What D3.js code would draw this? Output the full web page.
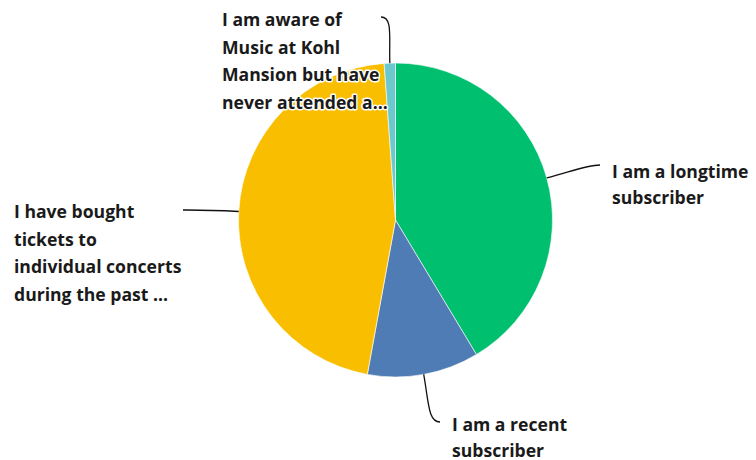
<!DOCTYPE html>
<html>
<head>
<meta charset="utf-8">
<script src="https://cdn.jsdelivr.net/npm/d3@7/dist/d3.min.js"></script>
<style>
  html, body { margin: 0; padding: 0; background: #fff; }
  svg { display: block; }
  .lbl { font-family: "Open Sans", sans-serif; font-weight: 700; font-size: 17.6px; fill: #1a1a1a;
         stroke: #fff; stroke-width: 3px; paint-order: stroke; stroke-linejoin: round; }
</style>
</head>
<body>
<svg id="chart" width="756" height="460"></svg>
<script>
// Survey answers (response counts), drawn clockwise from 12 o'clock
const categories = [
  "I am a longtime subscriber",
  "I am a recent subscriber",
  "I have bought tickets to individual concerts during the past ...",
  "I am aware of Music at Kohl Mansion but have never attended a..."
];
const responses = [36, 10, 40, 1];
const colors = ["#00BF6F", "#507CB6", "#F9BE00", "#6BC8CD"];
// Wrapped label lines for each slice
const labelLines = [
  ["I am a longtime", "subscriber"],
  ["I am a recent", "subscriber"],
  ["I have bought", "tickets to", "individual concerts", "during the past ..."],
  ["I am aware of", "Music at Kohl", "Mansion but have", "never attended a..."]
];

const W = 756, H = 460;
const cx = 395.5, cy = 220, R = 157;

// Label block placement: anchor end of leader line, text origin, side
const labelLayout = [
  { end: [600, 165], tx: 612, ty: 178, lh: 26, side: "right" },
  { end: [440, 422], tx: 452, ty: 431, lh: 26, side: "right" },
  { end: [183, 210], tx: 14,  ty: 218, lh: 27.6, side: "left" },
  { end: [381, 17],  tx: 222, ty: 26,  lh: 27.6, side: "left" }
];

const svg = d3.select("#chart");
const g = svg.append("g").attr("transform", `translate(${cx},${cy})`);

const pie = d3.pie().sort(null).value(d => d);
const arcs = pie(responses);
const arc = d3.arc().innerRadius(0).outerRadius(R);

g.selectAll("path.slice")
  .data(arcs)
  .join("path")
  .attr("class", "slice")
  .attr("d", arc)
  .attr("fill", (d, i) => colors[i])
  .attr("stroke", "#fff")
  .attr("stroke-width", 0.6);

// Leader lines: from the slice's outer mid-point, curving into the label
const leaders = svg.append("g");
arcs.forEach((d, i) => {
  const mid = (d.startAngle + d.endAngle) / 2;
  const ux = Math.sin(mid), uy = -Math.cos(mid);
  const x0 = cx + R * ux, y0 = cy + R * uy;
  const [x1, y1] = labelLayout[i].end;
  const dist = Math.hypot(x1 - x0, y1 - y0);
  const k = dist * 0.55;
  const dir = labelLayout[i].side === "right" ? -1 : 1;
  const p = d3.path();
  p.moveTo(x0, y0);
  p.bezierCurveTo(x0 + ux * k, y0 + uy * k, x1 + dir * Math.min(12, dist * 0.3), y1, x1, y1);
  leaders.append("path")
    .attr("d", p.toString())
    .attr("fill", "none")
    .attr("stroke", "#111")
    .attr("stroke-width", 1.3);
});

// Labels
const labels = svg.append("g");
labelLines.forEach((lines, i) => {
  const L = labelLayout[i];
  const t = labels.append("text").attr("class", "lbl")
    .attr("x", L.tx).attr("y", L.ty);
  lines.forEach((s, j) => {
    t.append("tspan").attr("x", L.tx).attr("y", L.ty + j * L.lh).text(s);
  });
});
</script>
</body>
</html>
